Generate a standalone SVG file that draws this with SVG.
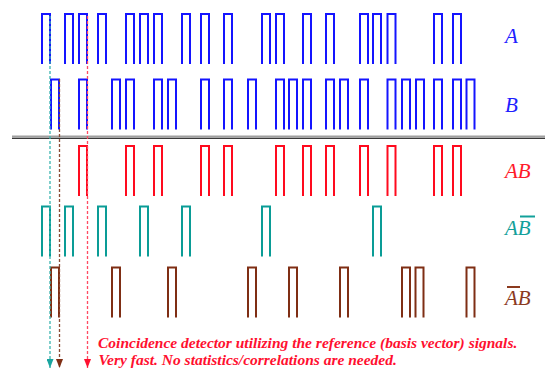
<svg xmlns="http://www.w3.org/2000/svg" width="545" height="372" viewBox="0 0 545 372">
<style>
.pulse use{fill:none;stroke-width:2}
.blue{stroke:#1414ff}
.red{stroke:#ff0a1e}
.teal{stroke:#0a9c96}
.brown{stroke:#7f2e14}
.lbl{font-family:"Liberation Serif","Times New Roman",serif;font-style:italic;font-size:21px}
.note{font-family:"Liberation Serif","Times New Roman",serif;font-style:italic;font-weight:bold;font-size:15.5px;fill:#ff1030}
.dash{fill:none;stroke-width:1.3;stroke-dasharray:3 2}
</style>
<defs>
<path id="p" d="M1,51 V1 H9 V51" fill="none"/>
<marker id="ah-teal" viewBox="0 0 7 9" refX="3.5" refY="9" markerWidth="7" markerHeight="9" markerUnits="userSpaceOnUse"><path d="M0,0 L7,0 L3.5,9 Z" fill="#1aa5a0"/></marker>
<marker id="ah-brown" viewBox="0 0 7 9" refX="3.5" refY="9" markerWidth="7" markerHeight="9" markerUnits="userSpaceOnUse"><path d="M0,0 L7,0 L3.5,9 Z" fill="#7f2e14"/></marker>
<marker id="ah-red" viewBox="0 0 7 9" refX="3.5" refY="9" markerWidth="7" markerHeight="9" markerUnits="userSpaceOnUse"><path d="M0,0 L7,0 L3.5,9 Z" fill="#ff1030"/></marker>
</defs>
<rect width="545" height="372" fill="#fff"/>

<g id="row-A" class="pulse blue">
<use href="#p" x="41" y="13"/><use href="#p" x="64" y="13"/><use href="#p" x="78" y="13"/><use href="#p" x="97" y="13"/>
<use href="#p" x="125" y="13"/><use href="#p" x="139" y="13"/><use href="#p" x="153" y="13"/><use href="#p" x="181" y="13"/>
<use href="#p" x="200" y="13"/><use href="#p" x="223" y="13"/><use href="#p" x="261" y="13"/><use href="#p" x="275" y="13"/>
<use href="#p" x="302" y="13"/><use href="#p" x="325" y="13"/><use href="#p" x="359" y="13"/><use href="#p" x="372" y="13"/>
<use href="#p" x="386.5" y="13"/><use href="#p" x="433" y="13"/><use href="#p" x="452" y="13"/>
</g>
<g id="row-B" class="pulse blue">
<use href="#p" x="50" y="78.5"/><use href="#p" x="78" y="78.5"/><use href="#p" x="111" y="78.5"/><use href="#p" x="125" y="78.5"/>
<use href="#p" x="153" y="78.5"/><use href="#p" x="167" y="78.5"/><use href="#p" x="200" y="78.5"/><use href="#p" x="223" y="78.5"/>
<use href="#p" x="247" y="78.5"/><use href="#p" x="275" y="78.5"/><use href="#p" x="288" y="78.5"/><use href="#p" x="302" y="78.5"/>
<use href="#p" x="325" y="78.5"/><use href="#p" x="339" y="78.5"/><use href="#p" x="359" y="78.5"/><use href="#p" x="386.5" y="78.5"/>
<use href="#p" x="401" y="78.5"/><use href="#p" x="415" y="78.5"/><use href="#p" x="433" y="78.5"/><use href="#p" x="452" y="78.5"/>
<use href="#p" x="465.5" y="78.5"/>
</g>
<g id="separator">
<line x1="12" y1="136.5" x2="545" y2="136.5" stroke="#a0a0a0" stroke-width="2"/>
<line x1="12" y1="138.3" x2="545" y2="138.3" stroke="#3a3a3a" stroke-width="1.2"/>
</g>
<g id="row-AB" class="pulse red">
<use href="#p" x="78" y="145"/><use href="#p" x="125" y="145"/><use href="#p" x="153" y="145"/><use href="#p" x="200" y="145"/>
<use href="#p" x="223" y="145"/><use href="#p" x="275" y="145"/><use href="#p" x="302" y="145"/><use href="#p" x="325" y="145"/>
<use href="#p" x="359" y="145"/><use href="#p" x="386.5" y="145"/><use href="#p" x="433" y="145"/><use href="#p" x="452" y="145"/>
</g>
<g id="row-AnotB" class="pulse teal">
<use href="#p" x="41" y="205.5"/><use href="#p" x="64" y="205.5"/><use href="#p" x="97" y="205.5"/><use href="#p" x="139" y="205.5"/>
<use href="#p" x="181" y="205.5"/><use href="#p" x="261" y="205.5"/><use href="#p" x="372" y="205.5"/>
</g>
<g id="row-notAB" class="pulse brown">
<use href="#p" x="50" y="266.5"/><use href="#p" x="111" y="266.5"/><use href="#p" x="167" y="266.5"/><use href="#p" x="247" y="266.5"/>
<use href="#p" x="288" y="266.5"/><use href="#p" x="339" y="266.5"/><use href="#p" x="401" y="266.5"/><use href="#p" x="414.5" y="266.5"/>
<use href="#p" x="465.5" y="266.5"/>
</g>

<g id="connectors">
<line class="dash" x1="50" y1="16" x2="50" y2="368" stroke="#3ab4b0" marker-end="url(#ah-teal)"/>
<line class="dash" x1="59.5" y1="79" x2="59.5" y2="368" stroke="#8a4a34" marker-end="url(#ah-brown)"/>
<line class="dash" x1="87.5" y1="16" x2="87.5" y2="368" stroke="#ff4a62" marker-end="url(#ah-red)"/>
</g>

<g id="labels" class="lbl">
<text x="505" y="43" fill="#2020ff">A</text>
<text x="505" y="112" fill="#2020ff">B</text>
<text x="505" y="178" fill="#ff1a2a">AB</text>
<g id="label-AnotB"><text x="505" y="234.5" fill="#12a09a">AB</text><line x1="520" y1="216.5" x2="535" y2="216.5" stroke="#12a09a" stroke-width="2"/></g>
<g id="label-notAB"><text x="505" y="305" fill="#8b3a1e">AB</text><line x1="507" y1="287" x2="520" y2="287" stroke="#8b3a1e" stroke-width="2"/></g>
</g>

<g id="note">
<text class="note" x="98" y="348">Coincidence detector utilizing the reference (basis vector) signals.</text>
<text class="note" x="98.5" y="365">Very fast. No statistics/correlations are needed.</text>
</g>
</svg>
